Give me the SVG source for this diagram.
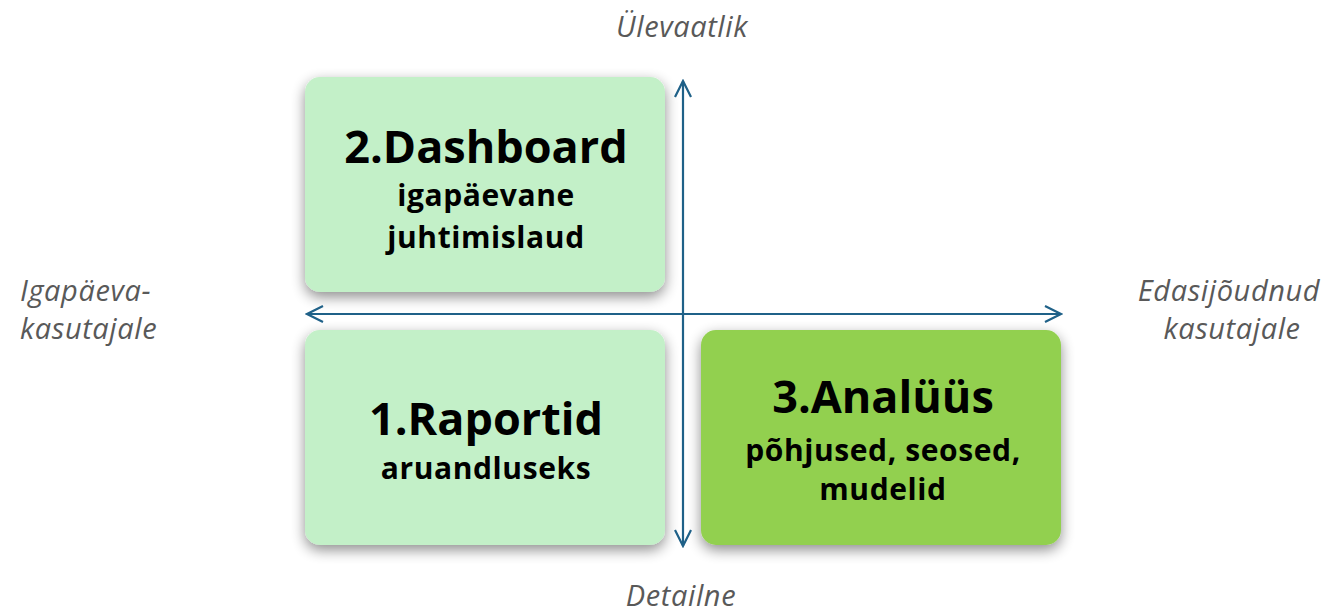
<svg xmlns="http://www.w3.org/2000/svg" width="1330" height="612" viewBox="0 0 1330 612">
  <defs>
    <filter id="shadow" x="-20%" y="-20%" width="140%" height="150%">
      <feGaussianBlur in="SourceAlpha" stdDeviation="7"/>
      <feOffset dx="0" dy="5" result="b"/>
      <feComponentTransfer><feFuncA type="linear" slope="0.45"/></feComponentTransfer>
      <feMerge><feMergeNode/><feMergeNode in="SourceGraphic"/></feMerge>
    </filter>
    <marker id="arrow" viewBox="0 0 20 20" refX="18" refY="10" markerWidth="20" markerHeight="20" markerUnits="userSpaceOnUse" orient="auto-start-reverse">
      <path d="M2,2 L18,10 L2,18" fill="none" stroke="#1f6188" stroke-width="2.2"/>
    </marker>
    <style>
      .box { filter: url(#shadow); }
      .light { fill: #c3f0c8; }
      .dark { fill: #92d050; }
      .title { font-family: "Open Sans", "Noto Sans", sans-serif; font-weight: bold; font-size: 45px; fill: #000; text-anchor: middle; }
      .sub { font-family: "Open Sans", "Noto Sans", sans-serif; font-weight: bold; font-size: 30px; letter-spacing: 0.6px; fill: #000; text-anchor: middle; }
      .axis-label { font-family: "Open Sans", "Noto Sans", sans-serif; font-style: italic; font-size: 29px; letter-spacing: 0.6px; fill: #595959; }
      .axis { stroke: #1f6188; stroke-width: 2.2; fill: none; }
    </style>
  </defs>

  <!-- quadrant boxes -->
  <g id="dashboard">
    <rect class="box light" x="305" y="77" width="360" height="215" rx="15"/>
    <text class="title" x="486" y="163">2.Dashboard</text>
    <text class="sub" x="486" y="206">igapäevane</text>
    <text class="sub" x="486" y="248">juhtimislaud</text>
  </g>
  <g id="raportid">
    <rect class="box light" x="305" y="330" width="360" height="215" rx="15"/>
    <text class="title" x="486" y="435">1.Raportid</text>
    <text class="sub" x="486" y="479">aruandluseks</text>
  </g>
  <g id="analyys">
    <rect class="box dark" x="701" y="330" width="360" height="215" rx="15"/>
    <text class="title" x="883" y="413">3.Analüüs</text>
    <text class="sub" x="883" y="461">põhjused, seosed,</text>
    <text class="sub" x="883" y="500">mudelid</text>
  </g>

  <!-- axes -->
  <g id="connectors">
    <line class="axis" x1="683" y1="81" x2="683" y2="546" marker-start="url(#arrow)" marker-end="url(#arrow)"/>
    <line class="axis" x1="307" y1="314" x2="1061" y2="314" marker-start="url(#arrow)" marker-end="url(#arrow)"/>
  </g>

  <!-- axis labels -->
  <g id="labels">
    <text class="axis-label" x="682" y="37" text-anchor="middle">Ülevaatlik</text>
    <text class="axis-label" x="681" y="606" text-anchor="middle">Detailne</text>
    <text class="axis-label" x="20" y="301">Igapäeva-</text>
    <text class="axis-label" x="20" y="339">kasutajale</text>
    <text class="axis-label" x="1229" y="301" text-anchor="middle">Edasijõudnud</text>
    <text class="axis-label" x="1232" y="339" text-anchor="middle">kasutajale</text>
  </g>
</svg>
